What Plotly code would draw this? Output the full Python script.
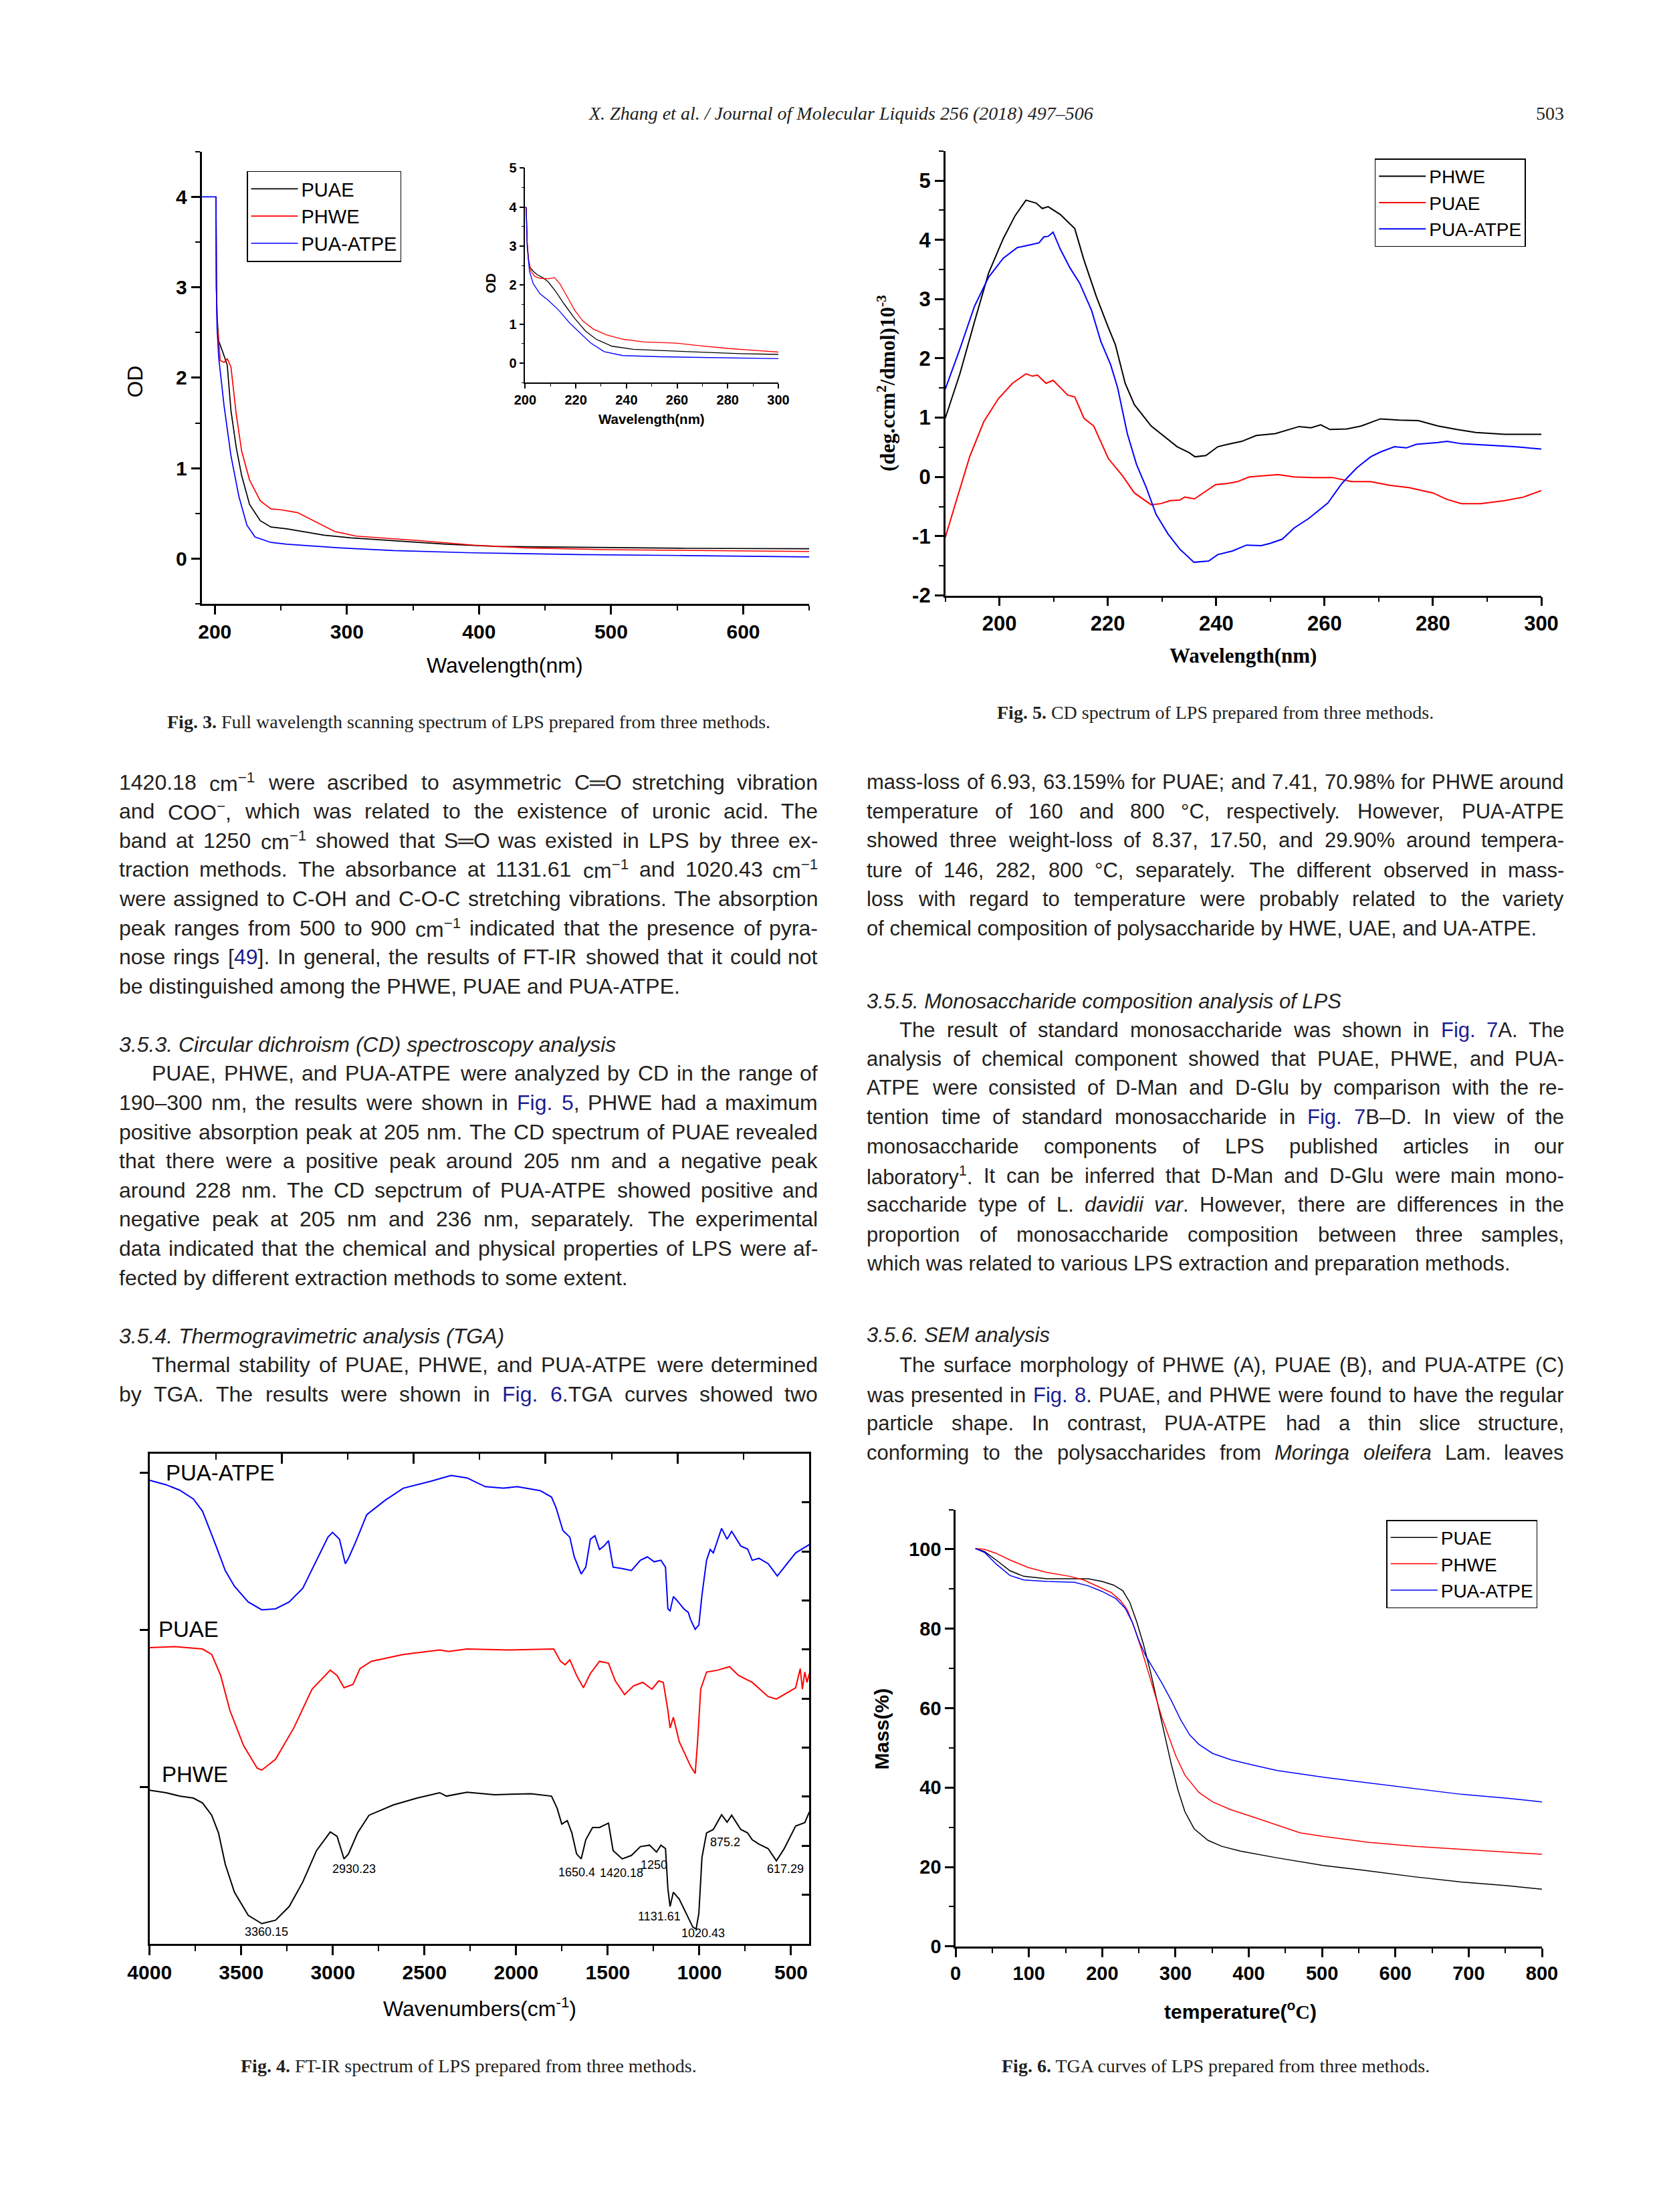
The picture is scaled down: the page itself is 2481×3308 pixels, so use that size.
import re
import plotly.graph_objects as go

W, H = 2481, 3308
OFF = 8  # page body margin of the html page, compensated here
ARIAL = "Liberation Sans, Arial, sans-serif"
TIMES = "Liberation Serif, Times New Roman, serif"
BODY = "Liberation Sans, Arial, sans-serif"
INK = "#231f20"
LINK = "#1c1c8f"
BLACK, RED, BLUE = "#000000", "#ff0000", "#0000ff"


def fx(p):
    return (p - OFF) / W


def fy(p):
    return 1 - (p - OFF) / H


# ---------------- Fig. 3 : UV full wavelength scan ----------------
uv_wl_puae = [200.9, 201.2, 201.7, 202.9, 206.1, 209.4, 212.2, 216.2, 220.3, 226.3, 234.4, 242.5,
              254.6, 266.7, 282.8, 303, 335.3, 375.6, 416, 476.5, 557.2, 650]
uv_od_puae = [4.0, 3.0, 2.68, 2.41, 2.28, 2.14, 1.64, 1.23, 0.92, 0.60, 0.42, 0.35,
              0.33, 0.30, 0.26, 0.23, 0.20, 0.16, 0.135, 0.125, 0.115, 0.11]
uv_wl_phwe = [200.9, 201.2, 201.8, 204.1, 207.0, 209.4, 211.0, 212.2, 216.2, 220.3, 226.3, 234.4, 242.5,
              250.5, 262.6, 274.7, 290.9, 307, 335.3, 355.4, 395.8, 436.1, 496.7, 577.4, 650]
uv_od_phwe = [4.0, 3.0, 2.6, 2.19, 2.17, 2.21, 2.16, 2.12, 1.60, 1.19, 0.87, 0.64, 0.55,
              0.54, 0.51, 0.42, 0.30, 0.25, 0.22, 0.20, 0.15, 0.12, 0.10, 0.09, 0.08]
uv_wl_atpe = [190, 200.9, 201.2, 201.7, 202.9, 207, 212.2, 218.2, 224.3, 230.4, 242.5, 254.6,
              294.9, 335.3, 395.8, 476.5, 557.2, 650]
uv_od_atpe = [4.0, 4.0, 3.0, 2.55, 2.23, 1.69, 1.14, 0.69, 0.37, 0.24, 0.18, 0.16,
              0.12, 0.09, 0.065, 0.045, 0.035, 0.02]

# inset 200-300 nm
ins_wl_puae = [200.0, 200.4, 200.8, 201.3, 201.9, 203.2, 204.8, 206.9, 209.1, 212.2, 215.4, 219.6,
               223.8, 228.0, 234.3, 242.7, 253.3, 263.8, 274.3, 284.8, 300.0]
ins_od_puae = [4.0, 3.98, 3.08, 2.66, 2.45, 2.35, 2.26, 2.19, 2.08, 1.82, 1.51, 1.14,
               0.82, 0.61, 0.43, 0.35, 0.32, 0.29, 0.27, 0.24, 0.22]
ins_wl_phwe = [200.0, 200.4, 200.8, 201.3, 202.3, 203.8, 205.9, 209.1, 211.6, 213.7, 216.4, 219.6,
               222.7, 226.9, 232.2, 238.5, 246.9, 259.6, 268.0, 280.6, 291.1, 300.0]
ins_od_phwe = [4.0, 3.98, 3.08, 2.66, 2.35, 2.22, 2.17, 2.16, 2.19, 2.03, 1.72, 1.35,
               1.08, 0.87, 0.72, 0.61, 0.54, 0.51, 0.45, 0.37, 0.32, 0.28]
ins_wl_atpe = [200.0, 200.4, 200.8, 201.7, 203.2, 205.9, 209.1, 213.3, 217.5, 221.7, 225.9, 231.2,
               238.5, 253.3, 274.3, 300.0]
ins_od_atpe = [4.0, 3.98, 2.98, 2.35, 2.03, 1.77, 1.61, 1.35, 1.03, 0.77, 0.51, 0.29,
               0.19, 0.16, 0.14, 0.11]

# ---------------- Fig. 5 : CD spectrum ----------------
cd_wl_phwe = [190, 192.7, 195.4, 198.0, 200.7, 202.9, 204.9, 206.8, 207.9, 209.0, 211.2, 213.9, 215.6,
              217.9, 220.1, 221.4, 223.2, 224.9, 228.0, 230.6, 232.8, 235.0, 236.1, 238.1, 240.3,
              242.1, 244.7, 247.4, 250.9, 255.3, 257.5, 259.3, 261.0, 264.1, 266.8, 270.3, 273.8,
              277.3, 280.9, 284.4, 287.9, 293.2, 300]
cd_v_phwe = [0.99, 1.74, 2.62, 3.44, 4.02, 4.41, 4.67, 4.62, 4.53, 4.56, 4.43, 4.19, 3.66,
             3.04, 2.52, 2.23, 1.58, 1.22, 0.86, 0.67, 0.51, 0.41, 0.34, 0.36, 0.51,
             0.55, 0.60, 0.70, 0.73, 0.85, 0.83, 0.88, 0.80, 0.81, 0.86, 0.98, 0.96,
             0.95, 0.86, 0.80, 0.75, 0.72, 0.72]
cd_wl_puae = [190, 192.3, 194.5, 197.1, 199.8, 202.4, 204.9, 206.1, 207.0, 208.6, 209.9, 211.2, 212.6,
              213.9, 215.6, 217.4, 220.1, 222.7, 224.9, 228.0, 229.8, 231.5, 233.3, 234.2, 236.0,
              238.1, 239.9, 242.1, 243.9, 246.1, 249.2, 251.4, 254.4, 258.0, 261.5, 265.0, 268.5,
              272.0, 275.6, 280.0, 282.6, 285.3, 288.8, 293.2, 296.7, 300]
cd_v_puae = [-1.02, -0.31, 0.34, 0.93, 1.32, 1.58, 1.74, 1.70, 1.72, 1.58, 1.63, 1.51, 1.38,
             1.35, 0.99, 0.86, 0.31, 0.02, -0.27, -0.47, -0.45, -0.40, -0.39, -0.34, -0.37,
             -0.24, -0.13, -0.11, -0.08, 0.0, 0.02, 0.04, 0.0, -0.01, -0.01, -0.08, -0.08,
             -0.14, -0.18, -0.27, -0.38, -0.45, -0.45, -0.40, -0.34, -0.23]
cd_wl_atpe = [190, 192.7, 195.4, 198.0, 200.7, 203.3, 205.9, 207.3, 208.2, 209.0, 209.9, 211.2, 213.0,
              214.8, 217.0, 218.7, 220.5, 221.8, 223.6, 225.3, 227.1, 228.9, 231.1, 233.3, 235.9,
              238.6, 240.3, 243.0, 245.6, 248.3, 250.0, 252.2, 254.4, 257.1, 260.6, 263.2, 265.9,
              268.5, 270.3, 272.9, 275.1, 276.9, 280.9, 282.6, 285.3, 289.7, 295.0, 300]
cd_v_atpe = [1.48, 2.16, 2.88, 3.37, 3.69, 3.87, 3.92, 3.95, 4.05, 4.06, 4.13, 3.85, 3.53,
             3.27, 2.81, 2.29, 1.90, 1.51, 0.73, 0.21, -0.18, -0.63, -0.96, -1.22, -1.44,
             -1.42, -1.31, -1.25, -1.15, -1.16, -1.12, -1.05, -0.86, -0.70, -0.44, -0.11, 0.15,
             0.34, 0.42, 0.51, 0.49, 0.55, 0.58, 0.60, 0.56, 0.54, 0.51, 0.47]
cd_ytick_vals = [-2, -1, 0, 1, 2, 3, 4, 5]
cd_ytick_text = ["-2", "-1", "0", "1", "2", "3", "4", "5"]

# ---------------- Fig. 4 : FT-IR (offset transmittance, arbitrary units) ----------------
ir_wn_atpe = [4000, 3910, 3836, 3761, 3711, 3674, 3637, 3587, 3537, 3462, 3388, 3313, 3238, 3164, 3089,
              3027, 3002, 2964, 2932, 2915, 2877, 2815, 2716, 2616, 2467, 2355, 2268, 2168, 2069, 1994,
              1869, 1807, 1782, 1745, 1707, 1683, 1645, 1620, 1595, 1570, 1545, 1521, 1496, 1471, 1421,
              1371, 1322, 1284, 1247, 1210, 1185, 1172, 1160, 1142, 1122, 1085, 1061, 1048, 1023, 1003,
              986, 961, 941, 924, 879, 849, 824, 774, 737, 712, 675, 625, 575, 537, 475, 400]
ir_t_atpe = [94.5, 93.6, 92.5, 90.7, 88.2, 84.7, 81.1, 76.1, 72.9, 69.7, 68.1, 68.3, 69.7, 72.5, 78.2,
             82.9, 83.9, 82.5, 77.5, 78.6, 81.8, 87.5, 90.4, 92.9, 94.3, 95.5, 95.0, 93.2, 92.9, 93.2,
             92.4, 91.1, 88.9, 84.3, 82.9, 78.9, 75.4, 76.8, 82.5, 83.2, 80.4, 81.1, 82.2, 76.8, 76.5,
             76.1, 78.2, 78.9, 77.9, 78.2, 76.8, 68.3, 67.9, 70.8, 70.0, 68.3, 67.6, 66.1, 64.1, 65.0,
             71.1, 78.2, 80.4, 79.7, 84.7, 82.5, 84.1, 81.1, 80.5, 78.2, 78.6, 77.5, 75.0, 76.8, 79.7, 81.4]
ir_wn_puae = [4000, 3861, 3711, 3661, 3612, 3562, 3487, 3413, 3388, 3313, 3213, 3114, 3014, 2977, 2939,
              2890, 2852, 2790, 2616, 2417, 2368, 2268, 2044, 1795, 1758, 1733, 1707, 1670, 1633, 1595,
              1545, 1496, 1459, 1408, 1359, 1309, 1259, 1222, 1197, 1172, 1160, 1142, 1110, 1073, 1048,
              1023, 1010, 993, 961, 899, 836, 786, 712, 625, 580, 525, 475, 450, 438, 425, 413, 400]
ir_t_puae = [60.4, 60.6, 60.1, 59.0, 54.7, 47.6, 40.4, 35.8, 35.4, 37.6, 44.0, 51.9, 55.8, 54.7, 52.2,
             52.9, 56.1, 57.6, 59.0, 59.9, 59.6, 60.1, 59.9, 60.1, 57.6, 56.9, 57.9, 54.7, 52.2, 55.1,
             57.6, 57.2, 53.6, 50.8, 52.6, 53.3, 51.9, 53.6, 53.3, 47.6, 44.0, 46.2, 41.2, 38.3, 36.2,
             34.7, 41.2, 51.9, 55.4, 55.8, 56.5, 54.7, 53.3, 50.4, 49.9, 51.1, 52.2, 56.1, 51.9, 55.4, 53.3, 55.1]
ir_wn_phwe = [4000, 3910, 3836, 3761, 3711, 3661, 3624, 3587, 3537, 3462, 3388, 3313, 3238, 3164, 3089,
              3014, 2977, 2939, 2915, 2865, 2803, 2670, 2541, 2417, 2380, 2268, 2118, 1919, 1807, 1776,
              1751, 1721, 1696, 1670, 1645, 1620, 1583, 1545, 1496, 1471, 1421, 1371, 1322, 1272, 1234,
              1210, 1185, 1172, 1160, 1142, 1110, 1073, 1036, 1018, 1003, 986, 961, 924, 879, 849,
              824, 774, 737, 712, 675, 625, 580, 537, 475, 425, 400]
ir_t_phwe = [31.3, 30.8, 30.1, 29.7, 28.7, 26.2, 22.6, 16.2, 10.5, 5.8, 4.1, 4.8, 7.6, 12.6, 19.0,
             22.8, 21.9, 17.3, 18.3, 22.6, 26.2, 28.3, 29.7, 30.8, 30.1, 30.9, 30.4, 30.6, 30.1, 27.6,
             24.4, 25.1, 22.6, 18.3, 17.3, 21.2, 23.7, 23.7, 24.6, 19.0, 17.3, 18.0, 19.8, 20.1, 18.7,
             20.1, 19.4, 11.2, 7.6, 10.5, 9.1, 6.2, 3.4, 3.0, 6.2, 17.6, 22.6, 23.3, 26.3, 24.8,
             26.2, 23.3, 22.6, 21.2, 20.3, 19.4, 16.9, 19.4, 24.0, 24.7, 26.9]

ir_peak_labels = ["3360.15", "2930.23", "1650.4", "1420.18", "1250", "1131.61", "1020.43", "875.2", "617.29"]
ir_peak_x = [3363, 2885, 1670, 1426, 1247, 1217, 978, 861, 530]
ir_peak_y = [2.4, 15.3, 14.6, 14.4, 16.0, 5.6, 2.1, 20.7, 15.3]
ir_series_labels = ["PUA-ATPE", "PUAE", "PHWE"]
ir_series_x = [3918, 3960, 3940]
ir_series_y = [96.1, 64.1, 34.6]

# ---------------- Fig. 6 : TGA ----------------
tga_t_puae = [27, 39.6, 55.3, 74.2, 93, 124.4, 155.8, 181, 199.8, 215.5, 228.1, 237.5, 247, 256.4, 265.8,
              275.2, 284.7, 294.1, 303.5, 312.9, 325.5, 344.4, 363.2, 388.4, 438.6, 501.5, 564.3, 627.2,
              690, 752.8, 800]
tga_m_puae = [100.2, 99.4, 97.3, 94.6, 93.2, 92.6, 92.6, 92.6, 91.9, 91.0, 89.6, 86.7, 81.8, 76.0, 69.2,
              61.5, 53.8, 46.0, 39.3, 33.9, 29.6, 26.7, 25.2, 24.0, 22.3, 20.4, 19.0, 17.5,
              16.2, 15.3, 14.4]
tga_t_phwe = [27, 39.6, 55.3, 74.2, 99.3, 124.4, 155.8, 174.7, 193.6, 212.4, 225, 234.4, 243.8, 253.3,
              262.7, 272.1, 281.5, 290.9, 300.4, 312.9, 331.8, 350.6, 375.8, 407.2, 438.6, 470, 501.5,
              564.3, 627.2, 690, 752.8, 800]
tga_m_phwe = [100.2, 100.0, 99.0, 97.3, 95.4, 94.2, 93.2, 92.3, 90.7, 89.1, 87.1, 84.7, 80.3, 75.0,
              69.2, 63.4, 57.6, 52.8, 48.0, 43.1, 38.8, 36.4, 34.4, 32.5, 30.6, 28.6, 27.7,
              26.2, 25.2, 24.5, 23.8, 23.2]
tga_t_atpe = [27, 39.6, 55.3, 74.2, 93, 124.4, 162.1, 181, 199.8, 218.7, 231.3, 240.7, 250.1, 259.5, 269,
              281.5, 294.1, 306.7, 319.2, 331.8, 350.6, 375.8, 407.2, 438.6, 501.5, 564.3, 627.2, 690,
              752.8, 800]
tga_m_atpe = [100.2, 99.2, 96.3, 93.4, 92.3, 91.9, 91.7, 90.8, 89.4, 87.6, 85.2, 81.8, 77.0, 73.1, 70.2,
              66.3, 62.0, 57.2, 53.3, 50.9, 48.6, 47.0, 45.6, 44.3, 42.6, 41.2, 39.7, 38.3,
              37.3, 36.4]

fig = go.Figure()


def line(x, y, color, name, xa, ya, legend=None, width=1.7):
    fig.add_trace(go.Scatter(x=x, y=y, mode="lines", name=name, line=dict(color=color, width=width),
                             xaxis=xa, yaxis=ya, showlegend=legend is not None,
                             legend=legend if legend else "legend", hoverinfo="skip"))


# Fig 3
line(uv_wl_puae, uv_od_puae, BLACK, "PUAE", "x", "y", "legend")
line(uv_wl_phwe, uv_od_phwe, RED, "PHWE", "x", "y", "legend")
line(uv_wl_atpe, uv_od_atpe, BLUE, "PUA-ATPE", "x", "y", "legend")
line(ins_wl_puae, ins_od_puae, BLACK, "PUAE", "x2", "y2", width=1.3)
line(ins_wl_phwe, ins_od_phwe, RED, "PHWE", "x2", "y2", width=1.3)
line(ins_wl_atpe, ins_od_atpe, BLUE, "PUA-ATPE", "x2", "y2", width=1.3)
# Fig 5
line(cd_wl_phwe, cd_v_phwe, BLACK, "PHWE", "x3", "y3", "legend2", 2)
line(cd_wl_puae, cd_v_puae, RED, "PUAE", "x3", "y3", "legend2", 2)
line(cd_wl_atpe, cd_v_atpe, BLUE, "PUA-ATPE", "x3", "y3", "legend2", 2)
# Fig 4
line(ir_wn_atpe, ir_t_atpe, BLUE, "PUA-ATPE", "x4", "y4", width=2)
line(ir_wn_puae, ir_t_puae, RED, "PUAE", "x4", "y4", width=2)
line(ir_wn_phwe, ir_t_phwe, BLACK, "PHWE", "x4", "y4", width=2)
fig.add_trace(go.Scatter(x=[None], y=[None], xaxis="x5", yaxis="y4", showlegend=False, hoverinfo="skip"))
fig.add_trace(go.Scatter(x=[None], y=[None], xaxis="x4", yaxis="y5", showlegend=False, hoverinfo="skip"))
# Fig 6
line(tga_t_puae, tga_m_puae, BLACK, "PUAE", "x6", "y6", "legend3", 1.5)
line(tga_t_phwe, tga_m_phwe, RED, "PHWE", "x6", "y6", "legend3", 1.5)
line(tga_t_atpe, tga_m_atpe, BLUE, "PUA-ATPE", "x6", "y6", "legend3", 1.5)


def axis(x0, x1, rng, anchor, size=30, dtick=None, minor=None, lw=2.5, tl=13, **kw):
    a = dict(domain=[x0, x1], range=rng, anchor=anchor, showgrid=False, zeroline=False, showline=True,
             linecolor="black", linewidth=lw, ticks="outside", ticklen=tl, tickwidth=lw,
             tickcolor="black", tickfont=dict(family=ARIAL, size=size, color="black", weight="bold"),
             fixedrange=True, automargin=False)
    if dtick is not None:
        a.update(tickmode="linear", tick0=0, dtick=dtick)
    if minor is not None:
        a["minor"] = dict(tickmode="linear", dtick=minor, tick0=0, ticks="outside", ticklen=int(tl * 0.6),
                          tickwidth=lw * 0.8, tickcolor="black")
    a.update(kw)
    return a


lay = dict(width=W, height=H, autosize=False,
           margin=dict(l=0, r=0, t=0, b=0, pad=0, autoexpand=False), paper_bgcolor="white",
           plot_bgcolor="rgba(0,0,0,0)", showlegend=True, hovermode=False)

# Fig 3 main
lay["xaxis"] = axis(fx(301.5), fx(1210.3), [190, 650], "y", 30, 100, 50)
lay["yaxis"] = axis(fy(903.2), fy(226.7), [-0.5, 4.5], "x", 30, 1, 0.5)
# inset
lay["xaxis2"] = axis(fx(785.4), fx(1164.0), [200, 300], "y2", 20, 20, 10, lw=1.6, tl=7)
lay["yaxis2"] = axis(fy(572.0), fy(251.2), [-0.5, 5.0], "x2", 20, 1, 0.5, lw=1.6, tl=7)
# Fig 5
lay["xaxis3"] = axis(fx(1413.6), fx(2305.0), [190, 300], "y3", 31, 20, 10)
lay["yaxis3"] = axis(fy(890.5), fy(225.8), [-2, 5.5], "x3", 31, None, 0.5,
                     tickmode="array", tickvals=cd_ytick_vals, ticktext=cd_ytick_text)
# Fig 4 (framed)
lay["xaxis4"] = axis(fx(223.7), fx(1210.4), [4000, 400], "y4", 30, 500, 250, tl=14)
lay["yaxis4"] = axis(fy(2906.8), fy(2173.5), [0, 100], "x4", tickmode="array", tickvals=[32, 64, 96],
                     showticklabels=False, ticklen=12)
lay["xaxis5"] = dict(overlaying="x4", side="top", anchor="y4", range=[4000, 400], showgrid=False,
                     zeroline=False, showline=True, linecolor="black", linewidth=2.5, ticks="inside",
                     ticklen=16, tickwidth=2.5, tickcolor="black", tickmode="array",
                     tickvals=[3279, 2559, 1839, 1119], showticklabels=False, fixedrange=True, automargin=False,
                     minor=dict(tickmode="array", tickvals=[3639, 2919, 2199, 1479, 759], ticks="inside",
                                ticklen=10, tickwidth=2, tickcolor="black"))
lay["yaxis5"] = dict(overlaying="y4", side="right", anchor="x4", range=[0, 100], showgrid=False,
                     zeroline=False, showline=True, linecolor="black", linewidth=2.5, ticks="inside",
                     ticklen=12, tickwidth=2.5, tickcolor="black", tickmode="array", automargin=False,
                     tickvals=[10, 20, 30, 40, 50, 60, 70, 80, 90], showticklabels=False, fixedrange=True)
# Fig 6
lay["xaxis6"] = axis(fx(1429.1), fx(2306.0), [0, 800], "y6", 29, 100, 50)
lay["yaxis6"] = axis(fy(2910.8), fy(2257.6), [0, 110], "x6", 29, 20, 10)

leg_common = dict(xanchor="left", yanchor="top", bgcolor="white", bordercolor="black", borderwidth=1.5,
                  itemwidth=70, tracegroupgap=0, itemclick=False, itemdoubleclick=False)
lay["legend"] = dict(x=fx(369), y=fy(255.5), font=dict(family=ARIAL, size=29, color="black"), **leg_common)
lay["legend2"] = dict(x=fx(2055.7), y=fy(237.3), font=dict(family=ARIAL, size=28, color="black"), **leg_common)
lay["legend3"] = dict(x=fx(2073.2), y=fy(2273), font=dict(family=ARIAL, size=28, color="black"), **leg_common)

ann = []


def txt(text, x, y, size, family=BODY, color=INK, xanchor="left", angle=0, weight="normal", yanchor="middle"):
    ann.append(dict(text=text, x=fx(x), y=fy(y), xref="paper", yref="paper", showarrow=False,
                    xanchor=xanchor, yanchor=yanchor, textangle=angle, borderpad=0,
                    font=dict(family=family, size=size, color=color, weight=weight)))


# axis titles
txt("OD", 201.8, 570.8, 32, ARIAL, "black", "center", -90)
txt("Wavelength(nm)", 755, 995, 32, ARIAL, "black", "center")
txt("OD", 733.5, 424, 20, ARIAL, "black", "center", -90, "bold")
txt("Wavelength(nm)", 974, 626, 20.5, ARIAL, "black", "center", weight="bold")
txt("(deg.ccm<sup>2</sup>/dmol)10<sup>-3</sup>", 1325, 573, 31, TIMES, "black", "center", -90, "bold")
txt("Wavelength(nm)", 1859, 980.6, 31, TIMES, "black", "center", weight="bold")
txt("Wavenumbers(cm<sup>-1</sup>)", 717, 3002, 32, ARIAL, "black", "center")
txt("Mass(%)", 1317.5, 2586, 30, ARIAL, "black", "center", -90, "bold")
txt("temperature(<sup>o</sup><span style='font-family:Liberation Serif'>C</span>)", 1855, 3006, 30, ARIAL,
    "black", "center", weight="bold")

# FT-IR in-plot labels (data coordinates)
for t, xv, yv in zip(ir_peak_labels, ir_peak_x, ir_peak_y):
    ann.append(dict(text=t, x=xv, y=yv, xref="x4", yref="y4", showarrow=False, xanchor="center",
                    yanchor="middle", font=dict(family=ARIAL, size=18, color="black")))
for t, xv, yv in zip(ir_series_labels, ir_series_x, ir_series_y):
    ann.append(dict(text=t, x=xv, y=yv, xref="x4", yref="y4", showarrow=False, xanchor="left",
                    yanchor="middle", font=dict(family=ARIAL, size=33, color="black")))

# header
txt("<i>X. Zhang et al. / Journal of Molecular Liquids 256 (2018) 497–506</i>", 1258, 169, 28, TIMES, INK, "center")
txt("503", 2340, 169, 28, TIMES, INK, "right")

# captions
txt("<b>Fig. 3.</b> Full wavelength scanning spectrum of LPS prepared from three methods.", 700.5, 1079, 28, TIMES, INK, "center")
txt("<b>Fig. 5.</b> CD spectrum of LPS prepared from three methods.", 1817.5, 1065.6, 28, TIMES, INK, "center")
txt("<b>Fig. 4.</b> FT-IR spectrum of LPS prepared from three methods.", 700.5, 3089, 28, TIMES, INK, "center")
txt("<b>Fig. 6.</b> TGA curves of LPS prepared from three methods.", 1817.5, 3089, 28, TIMES, INK, "center")

# ---------------- body text (justified by placing each word) ----------------
# text, y, indent, justified ; {...} marks link-coloured text
left_lines = [
    ("1420.18 cm<sup>−1</sup> were ascribed to asymmetric C═O stretching vibration", 1169.7, 0, True),
    ("and COO<sup>−</sup>, which was related to the existence of uronic acid. The", 1213.1, 0, True),
    ("band at 1250 cm<sup>−1</sup> showed that S═O was existed in LPS by three ex-", 1257.0, 0, True),
    ("traction methods. The absorbance at 1131.61 cm<sup>−1</sup> and 1020.43 cm<sup>−1</sup>", 1300.4, 0, True),
    ("were assigned to C-OH and C-O-C stretching vibrations. The absorption", 1343.8, 0, True),
    ("peak ranges from 500 to 900 cm<sup>−1</sup> indicated that the presence of pyra-", 1387.8, 0, True),
    ("nose rings [{49}]. In general, the results of FT-IR showed that it could not", 1431.2, 0, True),
    ("be distinguished among the PHWE, PUAE and PUA-ATPE.", 1474.6, 0, False),
    ("<i>3.5.3. Circular dichroism (CD) spectroscopy analysis</i>", 1561.9, 0, False),
    ("PUAE, PHWE, and PUA-ATPE were analyzed by CD in the range of", 1605.3, 1, True),
    ("190–300 nm, the results were shown in {Fig.} {5}, PHWE had a maximum", 1649.3, 0, True),
    ("positive absorption peak at 205 nm. The CD spectrum of PUAE revealed", 1692.7, 0, True),
    ("that there were a positive peak around 205 nm and a negative peak", 1736.1, 0, True),
    ("around 228 nm. The CD sepctrum of PUA-ATPE showed positive and", 1780.0, 0, True),
    ("negative peak at 205 nm and 236 nm, separately. The experimental", 1823.4, 0, True),
    ("data indicated that the chemical and physical properties of LPS were af-", 1866.8, 0, True),
    ("fected by different extraction methods to some extent.", 1910.8, 0, False),
    ("<i>3.5.4. Thermogravimetric analysis (TGA)</i>", 1997.5, 0, False),
    ("Thermal stability of PUAE, PHWE, and PUA-ATPE were determined", 2041.0, 1, True),
    ("by TGA. The results were shown in {Fig.} {6}.TGA curves showed two", 2084.5, 0, True),
]
right_lines = [
    ("mass-loss of 6.93, 63.159% for PUAE; and 7.41, 70.98% for PHWE around", 1169.1, 0, True),
    ("temperature of 160 and 800 °C, respectively. However, PUA-ATPE", 1213.3, 0, True),
    ("showed three weight-loss of 8.37, 17.50, and 29.90% around tempera-", 1256.8, 0, True),
    ("ture of 146, 282, 800 °C, separately. The different observed in mass-", 1301.0, 0, True),
    ("loss with regard to temperature were probably related to the variety", 1344.5, 0, True),
    ("of chemical composition of polysaccharide by HWE, UAE, and UA-ATPE.", 1388.7, 0, False),
    ("<i>3.5.5. Monosaccharide composition analysis of LPS</i>", 1497.4, 0, False),
    ("The result of standard monosaccharide was shown in {Fig.} {7}A. The", 1540.9, 1, True),
    ("analysis of chemical component showed that PUAE, PHWE, and PUA-", 1583.0, 0, True),
    ("ATPE were consisted of D-Man and D-Glu by comparison with the re-", 1626.5, 0, True),
    ("tention time of standard monosaccharide in {Fig.} {7}B–D. In view of the", 1670.7, 0, True),
    ("monosaccharide components of LPS published articles in our", 1714.9, 0, True),
    ("laboratory<sup>1</sup>. It can be inferred that D-Man and D-Glu were main mono-", 1758.4, 0, True),
    ("saccharide type of L. <i>davidii</i> <i>var</i>. However, there are differences in the", 1801.9, 0, True),
    ("proportion of monosaccharide composition between three samples,", 1846.0, 0, True),
    ("which was related to various LPS extraction and preparation methods.", 1889.5, 0, False),
    ("<i>3.5.6. SEM analysis</i>", 1996.9, 0, False),
    ("The surface morphology of PHWE (A), PUAE (B), and PUA-ATPE (C)", 2041.1, 1, True),
    ("was presented in {Fig.} {8}. PUAE, and PHWE were found to have the regular", 2086.0, 0, True),
    ("particle shape. In contrast, PUA-ATPE had a thin slice structure,", 2128.8, 0, True),
    ("conforming to the polysaccharides from <i>Moringa</i> <i>oleifera</i> Lam. leaves", 2172.3, 0, True),
]
LEFT_COL = (177.0, 1223.5, 32)
RIGHT_COL = (1295.4, 2339.5, 31)
INDENT = 49

# Arial / Liberation Sans advance widths (1/1000 em)
AW = dict(zip(" !\"#$%&'()*+,-./0123456789:;<=>?@",
              [278, 278, 355, 556, 556, 889, 667, 191, 333, 333, 389, 584, 278, 333, 278, 278,
               556, 556, 556, 556, 556, 556, 556, 556, 556, 556, 278, 278, 584, 584, 584, 556, 1015]))
AW.update(zip("ABCDEFGHIJKLMNOPQRSTUVWXYZ",
              [667, 667, 722, 722, 667, 611, 778, 722, 278, 500, 667, 556, 833, 722, 778, 667, 778, 722,
               667, 611, 722, 667, 944, 667, 667, 611]))
AW.update(zip("abcdefghijklmnopqrstuvwxyz",
              [556, 556, 500, 556, 556, 278, 556, 556, 222, 222, 500, 222, 833, 556, 556, 556, 556, 333,
               500, 278, 556, 500, 722, 500, 500, 500]))
AW.update({"[": 278, "]": 278, "–": 556, "−": 584, "═": 602, "°": 400})


def to_html(tok):
    return tok.replace("{", "<span style='color:%s'>" % LINK).replace("}", "</span>")


def tok_width(tok, size):
    w, scale = 0.0, 1.0
    for part in re.split(r"(<[^>]+>)", tok.replace("{", "").replace("}", "")):
        if part.startswith("<"):
            scale = 0.7 if part == "<sup>" else (1.0 if part == "</sup>" else scale)
            continue
        w += sum(AW.get(c, 556) for c in part) * scale
    return w * size / 1000.0


def set_lines(lines, col):
    x0, x1, size = col
    for text, y, ind, just in lines:
        start = x0 + INDENT * ind
        if not just:
            txt(to_html(text), start, y, size)
            continue
        words = text.split(" ")
        widths = [tok_width(wd, size) for wd in words]
        gap = max(((x1 - start) - sum(widths)) / (len(words) - 1), 0.18 * size)
        x = start
        for i, (wd, wdw) in enumerate(zip(words, widths)):
            if i == len(words) - 1:
                txt(to_html(wd), x1, y, size, xanchor="right")
            else:
                txt(to_html(wd), x, y, size)
            x += wdw + gap


set_lines(left_lines, LEFT_COL)
set_lines(right_lines, RIGHT_COL)

lay["annotations"] = ann
fig.update_layout(**lay)
fig.write_html("out.html")
